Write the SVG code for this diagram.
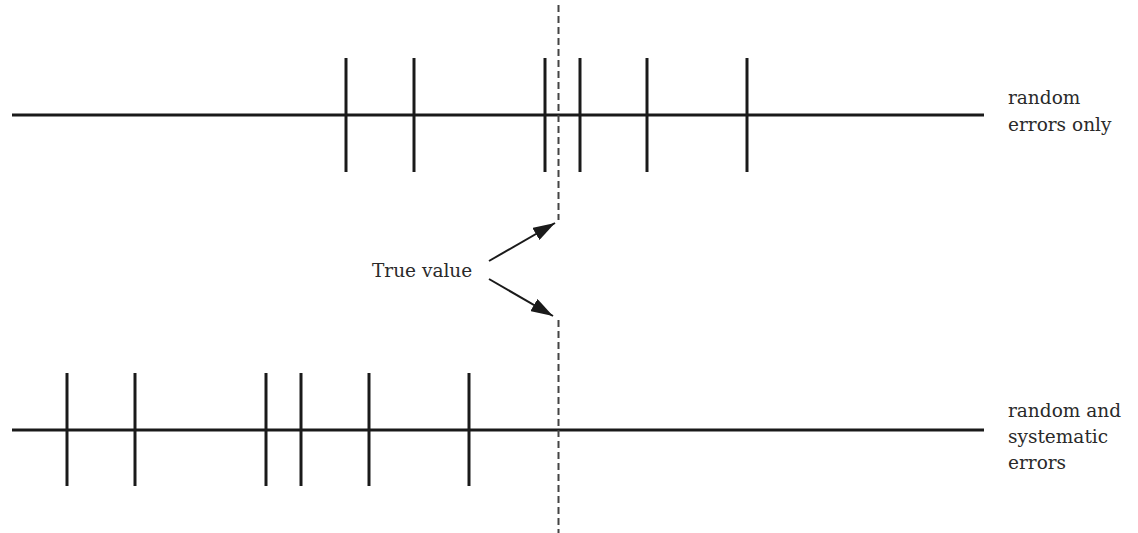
<svg xmlns="http://www.w3.org/2000/svg" width="1138" height="533" viewBox="0 0 1138 533">
<defs>
<style>
.axis{stroke:#1a1a1a;stroke-width:3;fill:none}
.tick{stroke:#1a1a1a;stroke-width:3;fill:none}
.true{stroke:#444;stroke-width:2;stroke-dasharray:7,4;fill:none}
.arrow{stroke:#1a1a1a;stroke-width:2;fill:none}
.lbl{font-family:"DejaVu Serif","Liberation Serif",serif;font-size:18.5px;fill:#2a2a2a}
</style>
<marker id="ahl" viewBox="0 0 10 10" refX="10" refY="5" markerWidth="22" markerHeight="14" markerUnits="userSpaceOnUse" orient="auto" preserveAspectRatio="none">
<path d="M0,0 L10,5 L0,10 z" fill="#1a1a1a"/>
</marker>
</defs>
<rect width="1138" height="533" fill="#ffffff"/>
<g id="top-scale">
<line class="axis" x1="12" y1="115" x2="984" y2="115"/>
<line class="tick" x1="346" y1="58" x2="346" y2="172"/>
<line class="tick" x1="414" y1="58" x2="414" y2="172"/>
<line class="tick" x1="545" y1="58" x2="545" y2="172"/>
<line class="tick" x1="580" y1="58" x2="580" y2="172"/>
<line class="tick" x1="647" y1="58" x2="647" y2="172"/>
<line class="tick" x1="747" y1="58" x2="747" y2="172"/>
<text class="lbl" x="1008" y="104">random</text>
<text class="lbl" x="1008" y="131">errors only</text>
</g>
<g id="bottom-scale">
<line class="axis" x1="12" y1="430" x2="984" y2="430"/>
<line class="tick" x1="67" y1="373" x2="67" y2="486"/>
<line class="tick" x1="135" y1="373" x2="135" y2="486"/>
<line class="tick" x1="266" y1="373" x2="266" y2="486"/>
<line class="tick" x1="301" y1="373" x2="301" y2="486"/>
<line class="tick" x1="369" y1="373" x2="369" y2="486"/>
<line class="tick" x1="469" y1="373" x2="469" y2="486"/>
<text class="lbl" x="1008" y="417">random and</text>
<text class="lbl" x="1008" y="443">systematic</text>
<text class="lbl" x="1008" y="469">errors</text>
</g>
<g id="true-value">
<line class="true" x1="558.5" y1="5" x2="558.5" y2="220"/>
<line class="true" x1="558.5" y1="320" x2="558.5" y2="533"/>
<text class="lbl" x="372" y="277">True value</text>
</g>
<g id="connectors">
<line class="arrow" x1="489" y1="261" x2="555" y2="223" marker-end="url(#ahl)"/>
<line class="arrow" x1="489" y1="279" x2="553" y2="316" marker-end="url(#ahl)"/>
</g>
</svg>
